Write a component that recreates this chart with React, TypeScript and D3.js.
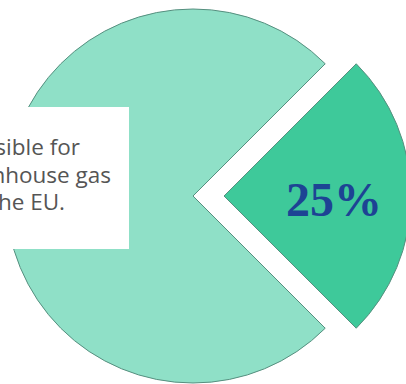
import React from "react";
import * as d3 from "d3";

const categories = ["Transport", "Other sectors"];
const values = [25, 75];
const sliceColors = ["#3ec99a", "#8fe0c7"];
const labelText = ["25%", ""];
const noteLines = [
  "Transport is responsible for",
  "a quarter of greenhouse gas",
  "emissions in the EU.",
];
const noteLineEnds = [80, 111, 65];

const W = 406;
const H = 384;
const cx = 193;
const cy = 196;
const R = 187;
const explode = 31;

export default function App() {
  const pie = d3
    .pie<number>()
    .sort(null)
    .startAngle(Math.PI / 4)
    .endAngle(Math.PI / 4 + 2 * Math.PI);
  const arcs = pie(values);
  const arc = d3.arc<d3.PieArcDatum<number>>().innerRadius(0).outerRadius(R);
  const labelArc = d3.arc<d3.PieArcDatum<number>>().innerRadius(220).outerRadius(220);

  return (
    <svg
      width={W}
      height={H}
      style={{ position: "absolute", left: 0, top: 0, background: "#fff" }}
    >
      <defs>
        <clipPath id="noteClip">
          <rect x={0} y={107} width={129} height={142} />
        </clipPath>
      </defs>
      <g transform={`translate(${cx},${cy})`}>
        {arcs.map((a, i) => {
          const mid = (a.startAngle + a.endAngle) / 2;
          const off = i === 0 ? explode : 0;
          const dx = Math.sin(mid) * off;
          const dy = -Math.cos(mid) * off;
          const [lx, ly] = labelArc.centroid(a);
          return (
            <g key={categories[i]} transform={`translate(${dx},${dy})`}>
              <path
                d={arc(a) || ""}
                fill={sliceColors[i]}
                stroke="#568f7f"
                strokeWidth={1}
              />
              {labelText[i] && (
                <text
                  x={lx / 2}
                  y={ly / 2}
                  dy="0.42em"
                  textAnchor="middle"
                  fontFamily="'Liberation Serif', serif"
                  fontWeight="bold"
                  fontSize={48}
                  fill="#1d4394"
                >
                  {labelText[i]}
                </text>
              )}
            </g>
          );
        })}
      </g>
      <rect x={-10} y={107} width={139} height={142} fill="#fff" />
      <g clipPath="url(#noteClip)">
        {noteLines.map((t, i) => (
          <text
            key={i}
            x={noteLineEnds[i]}
            y={155 + i * 27.5}
            textAnchor="end"
            fontFamily="'Open Sans', sans-serif"
            fontSize={22.5}
            fill="#555"
          >
            {t}
          </text>
        ))}
      </g>
    </svg>
  );
}
